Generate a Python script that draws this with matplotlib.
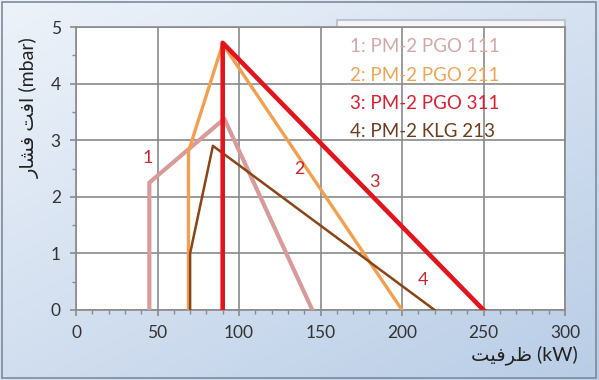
import numpy as np
import matplotlib
matplotlib.use('Agg')
import matplotlib.pyplot as plt
from matplotlib.patches import Rectangle

plt.rcParams['font.family'] = ['Lato', 'DejaVu Sans']

# data: capacity (kW) vs pressure drop (mbar)
x1 = [45, 45, 91, 145]
y1 = [0, 2.25, 3.38, 0]
x2 = [69, 69, 90, 200]
y2 = [0, 2.8, 4.7, 0]
x3 = [90, 90, 250]
y3 = [0, 4.72, 0]
x4 = [70, 70, 84, 220]
y4 = [0, 1.0, 2.9, 0]

names = ['1: PM-2 PGO 111', '2: PM-2 PGO 211', '3: PM-2 PGO 311', '4: PM-2 KLG 213']
colors = ['#d99a9a', '#f2a050', '#e3141c', '#8a4416']
text_colors = ['#d4a8a8', '#f0a455', '#dc1e30', '#6e3c1c']

num_labels = ['1', '2', '3', '4']
num_x = [44, 137, 183, 213]
num_y = [2.68, 2.5, 2.26, 0.53]

# Arabic text written in visual order with presentation forms (no shaping in mpl)
ylabel = '\uFEAD\uFE8E\uFEB8\uFED3 \uFE96\uFED3\uFE8D (mbar)'
xlabel = '\uFE96\uFBFF\uFED3\uFEAE\uFEC7 (kW)'

fig = plt.figure(figsize=(5.99, 3.80), dpi=100)

# gradient background
bg = fig.add_axes([0, 0, 1, 1], zorder=-2)
gx, gy = np.meshgrid(np.linspace(0, 1, 200), np.linspace(0, 1, 200))
g = 0.55 * gy + 0.45 * gx
bg.imshow(g, cmap=matplotlib.colors.LinearSegmentedColormap.from_list('bg', ['#eef3fa', '#b9cde6']),
          aspect='auto', extent=[0, 1, 0, 1], origin='upper')
bg.add_patch(Rectangle((0.003, 0.004), 0.992, 0.99, fill=False, edgecolor='#7f8a99', lw=1.2))
bg.set_xlim(0, 1)
bg.set_ylim(0, 1)
bg.axis('off')

# legend box (top strip shows above plot area)
fig.patches.append(Rectangle((337 / 599, 1 - 140 / 380), 228 / 599, 120 / 380,
                             transform=fig.transFigure, facecolor='#f4f5f7',
                             edgecolor='#c0c4ca', lw=1.5, zorder=-1))

ax = fig.add_axes([76 / 599, 1 - 310 / 380, 489 / 599, 283 / 380])
ax.set_facecolor('white')

ax.plot(x1, y1, color=colors[0], lw=3.0, zorder=3)
ax.plot(x2, y2, color=colors[1], lw=2.4, zorder=3)
ax.plot(x4, y4, color=colors[3], lw=1.8, zorder=4)
ax.plot(x3, y3, color=colors[2], lw=3.3, zorder=5)

for t, xx, yy in zip(num_labels, num_x, num_y):
    ax.text(xx, yy, t, color='#c8282c', fontsize=13, ha='center', va='center', zorder=6)

for i, (name, c) in enumerate(zip(names, text_colors)):
    ax.text(0.56, 0.93 - i * 0.1, name, color=c, fontsize=13.5, transform=ax.transAxes,
            va='center', ha='left', zorder=6)

ax.set_xlim(0, 300)
ax.set_ylim(0, 5)
ax.set_xticks(range(0, 301, 50))
ax.set_yticks(range(0, 6))
ax.set_xticks(range(0, 301, 10), minor=True)
ax.set_yticks(np.arange(0, 5.01, 0.5), minor=True)
ax.grid(True, which='major', color='#8a8a8a', lw=1.2, zorder=0)
ax.set_axisbelow(True)
for s in ax.spines.values():
    s.set_color('#8a8a8a')
    s.set_linewidth(1.2)
ax.tick_params(which='major', direction='out', length=4, color='#8a8a8a', width=1.2,
               labelsize=12.5, labelcolor='#333333', pad=7)
ax.tick_params(which='minor', direction='out', length=3, color='#8a8a8a', width=1)

fig.text(30 / 599, 1 - 108 / 380, ylabel, rotation=90, ha='center', va='center',
         fontsize=14, color='#222222')
fig.text(578 / 599, 1 - 355 / 380, xlabel, ha='right', va='center',
         fontsize=14, color='#222222')

fig.savefig('out.png', dpi=100)
